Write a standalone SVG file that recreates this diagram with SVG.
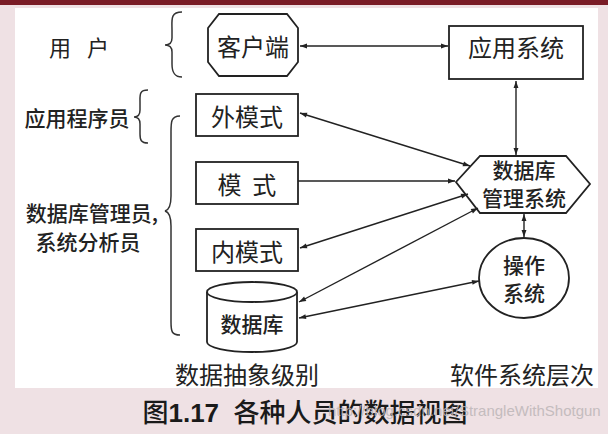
<svg xmlns="http://www.w3.org/2000/svg" width="608" height="434" viewBox="0 0 608 434">
<defs>
<marker id="ah" viewBox="0 0 10 10" refX="10" refY="5" markerWidth="10" markerHeight="7" orient="auto-start-reverse" markerUnits="userSpaceOnUse">
<path d="M0,1.5 L10,5 L0,8.5 Z" fill="#222"/>
</marker>
<style>
.s{fill:#fff;stroke:#222;stroke-width:1.8}
.t{font-family:"Noto Sans CJK SC","Noto Sans",sans-serif;font-weight:400;fill:#222;text-anchor:middle;dominant-baseline:central}
.m{font-weight:500}
.cap{font-family:"Liberation Sans","Noto Sans CJK SC",sans-serif;font-weight:500;fill:#1a1a1a}
.num{font-weight:700}
.c{stroke:#222;stroke-width:1.4;fill:none}
.b{stroke:#333;stroke-width:1.5;fill:none}
</style>
</defs>
<rect x="0" y="0" width="608" height="434" fill="#efe1e4"/>
<rect x="0" y="0" width="608" height="5" fill="#7a1c26"/>
<rect x="15" y="8" width="583" height="380" fill="#fff"/>

<g id="label-user"><text class="t" x="60" y="46" font-size="22">用</text><text class="t" x="98" y="46" font-size="22">户</text>
<path class="b" d="M182,12 C170,12 172,20 172,30 L172,38 C172,43 169,45 165,45 C169,45 172,47 172,52 L172,64 C172,72 174,77 182,77"/></g>
<g id="label-programmer"><text class="t m" x="77" y="117" font-size="21">应用程序员</text>
<path class="b" d="M148,90 C139,90 140,95 140,102 L140,110 C140,114 138,117 134,117 C138,117 140,120 140,124 L140,134 C140,140 141,143 148,143"/></g>
<g id="label-dba"><text class="t m" x="92" y="212" font-size="21">数据库管理员,</text><text class="t m" x="88" y="241" font-size="21">系统分析员</text>
<path class="b" d="M180,116 C171,116 171,122 171,132 L171,196 C171,204 169,210 165,211 C169,212 171,218 171,226 L171,322 C171,332 172,335 180,335"/></g>

<g id="client"><path class="s" d="M219,14 L287,14 L298,28 L298,62 L287,76 L219,76 L208,62 L208,28 Z"/><text class="t" x="253" y="45" font-size="24">客户端</text></g>
<g id="app"><rect class="s" x="449" y="26" width="134" height="53"/><text class="t" x="516" y="46" font-size="24">应用系统</text></g>
<g id="external"><rect class="s" x="196" y="94" width="102" height="42"/><text class="t" x="247" y="115" font-size="24">外模式</text></g>
<g id="schema"><rect class="s" x="196" y="162" width="102" height="42"/><text class="t" x="247" y="183" font-size="24" xml:space="preserve">模  式</text></g>
<g id="internal"><rect class="s" x="196" y="229" width="102" height="42"/><text class="t" x="247" y="250" font-size="24">内模式</text></g>
<g id="db"><path class="s" d="M207,292 A45,10 0 0 1 297,292 L297,342 A45,10 0 0 1 207,342 Z"/><path class="s" d="M207,292 A45,10 0 0 0 297,292" fill="none"/><text class="t m" x="252" y="323" font-size="21">数据库</text></g>
<g id="dbms"><path class="s" d="M456,182 L480,156 L566,156 L590,184 L566,213 L480,213 Z"/><text class="t m" x="524" y="169" font-size="21">数据库</text><text class="t m" x="524" y="197" font-size="21">管理系统</text></g>
<g id="os"><ellipse class="s" cx="524" cy="278" rx="45" ry="40"/><text class="t m" x="524" y="264" font-size="21">操作</text><text class="t m" x="524" y="292" font-size="21">系统</text></g>

<g id="connectors">
<line class="c" x1="300" y1="46" x2="448" y2="46" marker-start="url(#ah)" marker-end="url(#ah)"/>
<line class="c" x1="516" y1="81" x2="516" y2="155" marker-start="url(#ah)" marker-end="url(#ah)"/>
<line class="c" x1="300" y1="113" x2="470" y2="166" marker-start="url(#ah)" marker-end="url(#ah)"/>
<line class="c" x1="298" y1="181" x2="455" y2="181" marker-end="url(#ah)"/>
<line class="c" x1="300" y1="248" x2="468" y2="194" marker-start="url(#ah)" marker-end="url(#ah)"/>
<line class="c" x1="299" y1="302" x2="478" y2="208" marker-start="url(#ah)" marker-end="url(#ah)"/>
<line class="c" x1="299" y1="318" x2="479" y2="281" marker-start="url(#ah)" marker-end="url(#ah)"/>
<line class="c" x1="524" y1="214" x2="524" y2="237" marker-start="url(#ah)" marker-end="url(#ah)"/>
</g>

<text class="t" x="247" y="373" font-size="24">数据抽象级别</text>
<text class="t" x="522" y="373" font-size="24">软件系统层次</text>
<text class="t cap" x="305" y="413" font-size="26" xml:space="preserve">图<tspan class="num">1.17</tspan>  各种人员的数据视图</text>
<text x="328" y="416" font-family="Liberation Sans, sans-serif" font-size="15" fill="#bdb6b8" opacity="0.85">http://blog.csdn.net/StrangleWithShotgun</text>
</svg>
